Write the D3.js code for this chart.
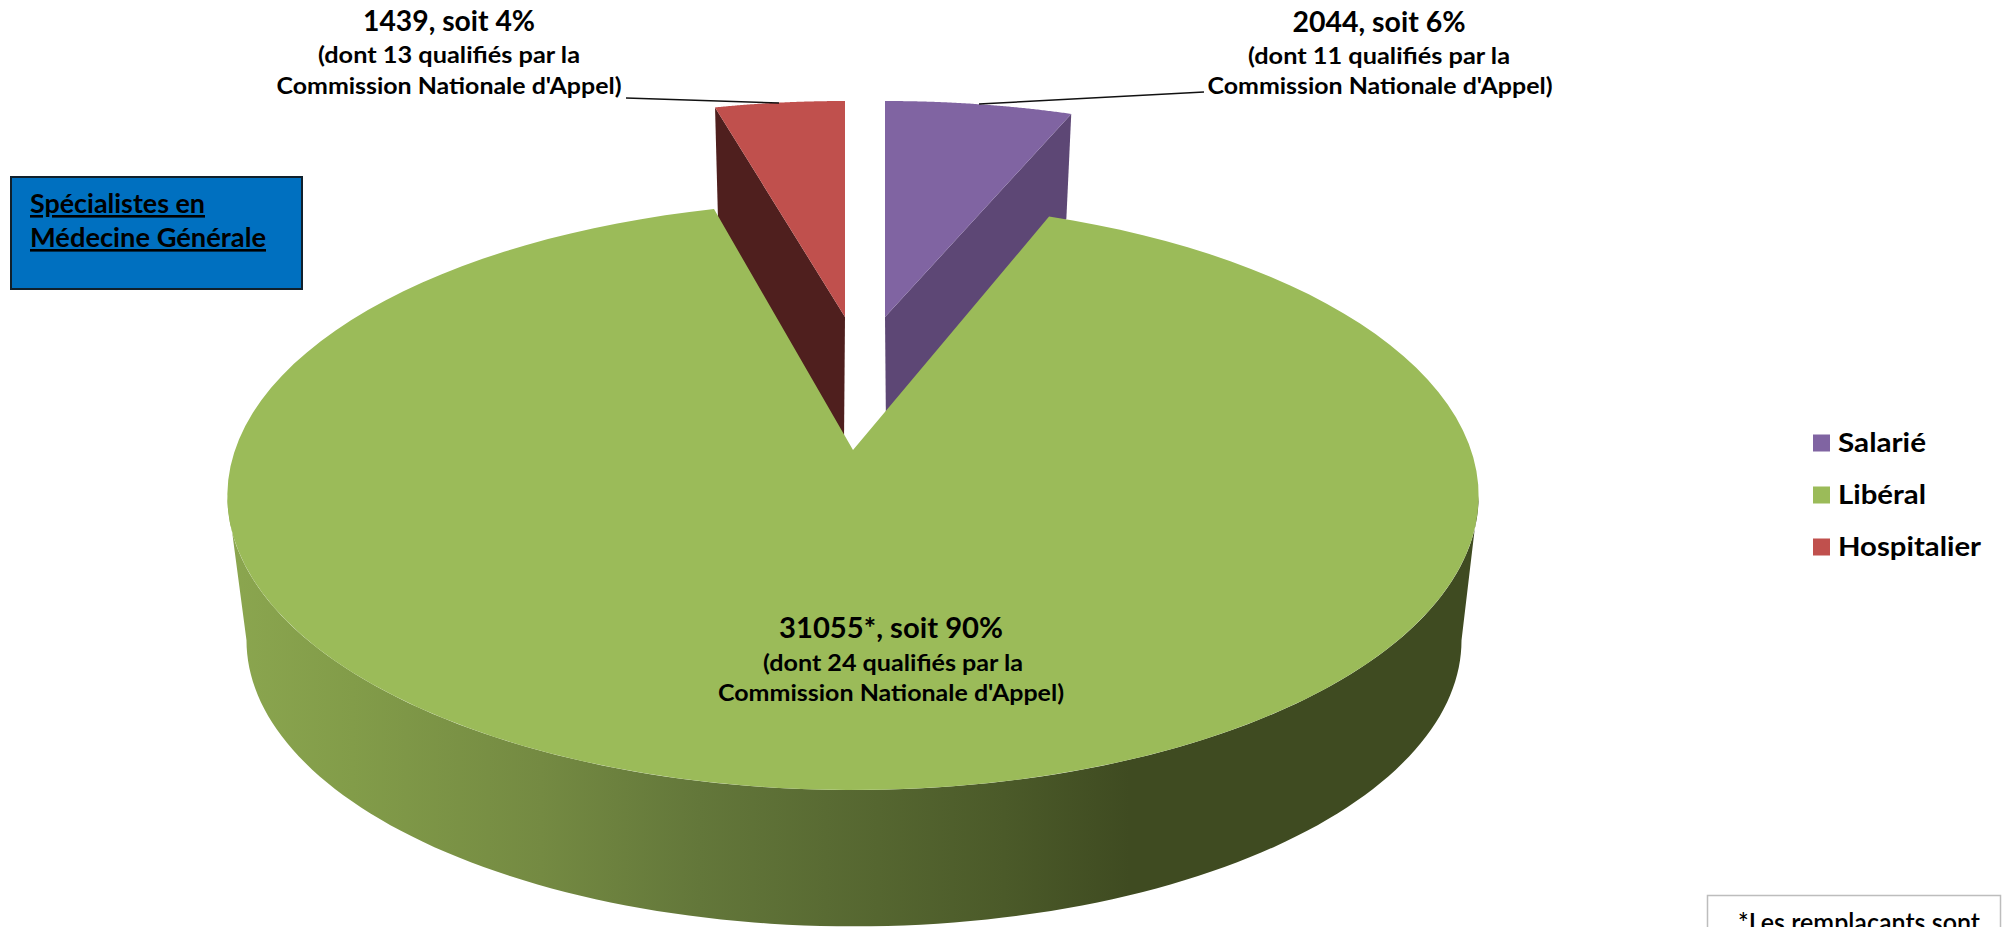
<!DOCTYPE html>
<html lang="fr">
<head>
<meta charset="utf-8">
<title>Spécialistes en Médecine Générale</title>
<script src="https://cdn.jsdelivr.net/npm/d3@7"></script>
<style>
html,body{margin:0;padding:0;background:#fff;overflow:hidden}
svg{display:block}
text{font-family:Lato,"Open Sans",sans-serif;font-weight:700;fill:#000}
</style>
</head>
<body>
<svg id="chart" width="2004" height="927"></svg>
<script>
// Effectifs par mode d'exercice
const categories = ["Salarié", "Libéral", "Hospitalier"];
const values = [2044, 31055, 1439];
const valueLabels = ["2044, soit 6%", "31055*, soit 90%", "1439, soit 4%"];
const detailLabels = ["(dont 11 qualifiés par la", "(dont 24 qualifiés par la", "(dont 13 qualifiés par la"];
const detailLine2 = "Commission Nationale d'Appel)";
const topColors = ["#8064a2", "#9bbb59", "#c0504d"];
const sideColors = ["#5d4775", "#9bbb59", "#4f1f1e"];
const legendOrder = ["Salarié", "Libéral", "Hospitalier"];
const titleLines = ["Spécialistes en", "Médecine Générale"];
const noteLine = "*Les remplaçants sont";

const svg = d3.select("#chart");

// Projection en perspective du disque : p règle le raccourci, a et c les demi-axes
const P = 0.156, A = 287, C = 618;
const project = (angle, apex, scale) => {
  const u = Math.sin(angle), v = Math.cos(angle), w = 1 + P * v;
  return [apex[0] + scale[0] * C * u / w, apex[1] - scale[1] * A * v / w];
};
const line = d3.line();
const arcPoints = (a0, a1, apex, scale) =>
  d3.range(0, 121).map(i => project(a0 + (a1 - a0) * i / 120, apex, scale));

const arcs = d3.pie().sort(null).value(d => d)(values);

// Placement de chaque secteur détaché : sommet et échelle du dessus, puis du dessous
const layout = [
  {apex: [885, 317], scale: [0.95, 0.87], baseApex: [886, 432], baseScale: [0.92, 0.913]},
  {apex: [853, 450], scale: [1, 1], baseApex: [854, 595.5], baseScale: [0.971, 0.973]},
  {apex: [845, 317], scale: [0.935, 0.87], baseApex: [844, 442], baseScale: [0.906, 0.913]}
];

const defs = svg.append("defs");
const grad = defs.append("linearGradient").attr("id", "sideGreen")
  .attr("gradientUnits", "userSpaceOnUse").attr("x1", 228).attr("x2", 1480).attr("y1", 0).attr("y2", 0);
[[0, "#8ba64f"], [0.1, "#829c49"], [0.25, "#748a42"], [0.377, "#63773a"], [0.62, "#4b5a29"], [0.72, "#3f4b21"], [1, "#3f4b21"]]
  .forEach(([o, c]) => grad.append("stop").attr("offset", o).attr("stop-color", c));

// Faces latérales et dessus des deux petits secteurs
[0, 2].forEach(i => {
  const d = arcs[i], l = layout[i];
  const outer = i === 0 ? d.endAngle : d.startAngle;
  svg.append("path").attr("fill", sideColors[i]).attr("d", line([
    l.apex, project(outer, l.apex, l.scale), project(outer, l.baseApex, l.baseScale), l.baseApex
  ]) + "Z");
  svg.append("path").attr("fill", topColors[i]).attr("d", line([
    l.apex, ...arcPoints(d.startAngle, d.endAngle, l.apex, l.scale)
  ]) + "Z");
});

// Secteur principal : tranche avant en dégradé, puis dessus
const g = arcs[1], gl = layout[1];
const rightTangent = Math.acos(-P), leftTangent = 2 * Math.PI - rightTangent;
svg.append("path").attr("fill", "url(#sideGreen)").attr("d", line([
  ...arcPoints(rightTangent, leftTangent, gl.apex, gl.scale),
  ...arcPoints(leftTangent, rightTangent, gl.baseApex, gl.baseScale)
]) + "Z");
svg.append("path").attr("fill", topColors[1]).attr("d", line([
  gl.apex, ...arcPoints(g.startAngle, g.endAngle, gl.apex, gl.scale)
]) + "Z");

// Traits de rappel
[[[626, 98], [779, 103]], [[979, 104], [1204, 92]]].forEach(pts =>
  svg.append("path").attr("d", line(pts)).attr("fill", "none").attr("stroke", "#111").attr("stroke-width", 1.5));

// Étiquettes de valeurs, largeurs calées par textLength
const put = (txt, x, y, size, len) => svg.append("text").text(txt)
  .attr("x", x).attr("y", y).attr("font-size", size).attr("text-anchor", "middle")
  .attr("textLength", len).attr("lengthAdjust", "spacingAndGlyphs");
const labelPos = [
  {x: [1379, 1379, 1380], y: [32, 64, 94], w: [173, 262, 345]},
  {x: [891, 893, 891], y: [638, 671, 701], w: [224, 260, 346]},
  {x: [449, 449, 449], y: [31, 63, 94], w: [172, 262, 345]}
];
values.forEach((_, i) => {
  const p = labelPos[i];
  put(valueLabels[i], p.x[0], p.y[0], 28, p.w[0]);
  put(detailLabels[i], p.x[1], p.y[1], 23, p.w[1]);
  put(detailLine2, p.x[2], p.y[2], 23, p.w[2]);
});

// Encadré bleu du titre
svg.append("rect").attr("x", 11).attr("y", 177).attr("width", 291).attr("height", 112)
  .attr("fill", "#0070c0").attr("stroke", "#10202c").attr("stroke-width", 2);
titleLines.forEach((t, i) => svg.append("text").text(t)
  .attr("x", 30).attr("y", 213 + i * 34).attr("font-size", 26)
  .attr("text-decoration", "underline")
  .attr("textLength", i ? 236 : 175).attr("lengthAdjust", "spacingAndGlyphs"));

// Légende
const legendY = d3.scalePoint().domain(legendOrder).range([443, 547]);
const legendWidths = [88, 88, 143];
legendOrder.forEach((name, i) => {
  const idx = categories.indexOf(name), y = legendY(name);
  svg.append("rect").attr("x", 1813).attr("y", y - 8.5).attr("width", 17).attr("height", 17).attr("fill", topColors[idx]);
  svg.append("text").text(name).attr("x", 1838).attr("y", y + 9).attr("font-size", 27)
    .attr("textLength", legendWidths[i]).attr("lengthAdjust", "spacingAndGlyphs");
});

// Note de bas de page
svg.append("rect").attr("x", 1707.5).attr("y", 895.5).attr("width", 293).attr("height", 60)
  .attr("fill", "#fff").attr("stroke", "#bdbdbd").attr("stroke-width", 1.5);
svg.append("text").text(noteLine).attr("x", 1859).attr("y", 932).attr("font-size", 26).attr("text-anchor", "middle")
  .attr("textLength", 242).attr("lengthAdjust", "spacingAndGlyphs").style("font-weight", 600);
</script>
</body>
</html>
